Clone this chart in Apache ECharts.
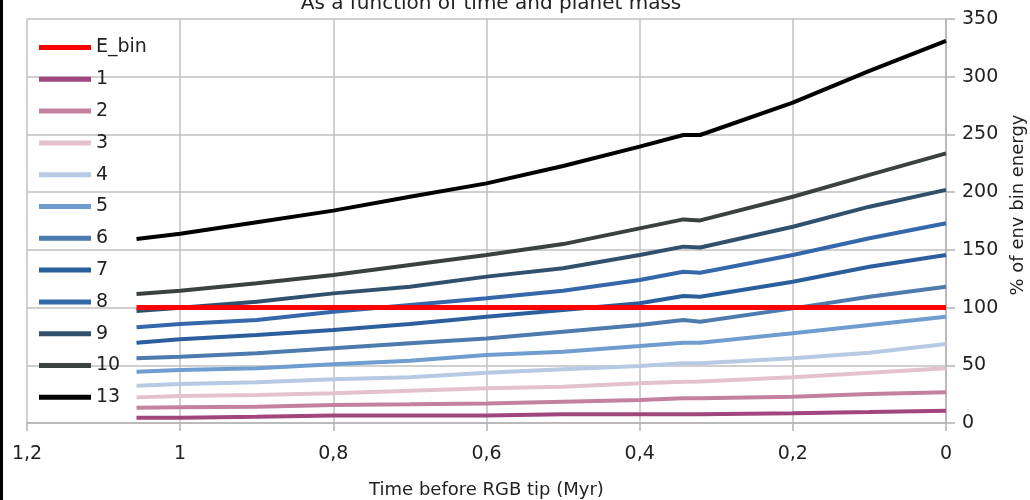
<!DOCTYPE html>
<html>
<head>
<meta charset="utf-8">
<title>As a function of time and planet mass</title>
<script src="https://cdn.jsdelivr.net/npm/echarts@6/dist/echarts.min.js"></script>
<style>
  html, body { margin: 0; padding: 0; background: #fff; }
  #chart { width: 1030px; height: 500px; }
</style>
</head>
<body>
<div id="chart"></div>
<script>
// time before RGB tip (Myr), shared by every curve
var timeMyr = [1.057, 1.0, 0.9, 0.8, 0.7, 0.6, 0.5, 0.4, 0.343, 0.321, 0.2, 0.1, 0];

// % of envelope binding energy, one list per planet mass
var eBin = [100, 100, 100, 100, 100, 100, 100, 100, 100, 100, 100, 100, 100];
var m1  = [4.6, 4.6, 5.5, 6.6, 6.6, 6.6, 7.5, 7.5, 7.5, 7.5, 8.4, 9.5, 10.7];
var m2  = [13.3, 13.6, 14.1, 15.6, 16.2, 17, 18.5, 19.9, 21.4, 21.4, 22.8, 25.1, 26.6];
var m3  = [22.2, 23.4, 24.3, 25.7, 28, 30, 31.5, 34.4, 35.8, 36, 39.6, 43.6, 47.4];
var m4  = [32.3, 33.8, 35.2, 37.8, 39.6, 43.6, 46.5, 49.4, 51.7, 51.7, 56, 60.9, 68.4];
var m5  = [44.5, 45.9, 47.4, 50.8, 54, 58.9, 61.8, 66.7, 69.6, 69.6, 77.7, 84.9, 92.1];
var m6  = [56, 57.5, 60.4, 64.7, 69, 73.3, 79.1, 84.9, 89.2, 87.8, 99.3, 109.4, 118];
var m7  = [69.6, 72.5, 76.2, 80.6, 85.8, 92.1, 97.9, 103.7, 110, 109.4, 122.4, 135.4, 145.5];
var m8  = [82.9, 85.8, 89.2, 96.4, 102.2, 108, 114.6, 123.9, 131, 130.2, 145.5, 160, 173];
var m9  = [97, 99.9, 105, 112.3, 118, 126.8, 134, 145.5, 152.8, 152, 170, 187.4, 202];
var m10 = [111.8, 114.6, 121, 128.2, 136.9, 145.5, 155, 168.6, 176.4, 175.5, 196, 215, 233.6];
var m13 = [159.4, 164, 174, 184, 196, 207.6, 222.6, 239.4, 249.5, 249.5, 277.5, 305, 331];

var seriesNames = ['E_bin', '1', '2', '3', '4', '5', '6', '7', '8', '9', '10', '13'];
var seriesValues = [eBin, m1, m2, m3, m4, m5, m6, m7, m8, m9, m10, m13];
var seriesColors = ['#ff0000', '#a0457d', '#c3819f', '#e3c2ce', '#b6cbe3', '#6f9dd0', '#4e7bad',
                    '#2b5e9c', '#3567ab', '#31506c', '#3b4040', '#000000'];

var xTickLabels = {'1.2': '1,2', '1': '1', '0.8': '0,8', '0.6': '0,6', '0.4': '0,4', '0.2': '0,2', '0': '0'};

var font = 'DejaVu Sans';

var chart = echarts.init(document.getElementById('chart'));

var series = [];
for (var i = 0; i < seriesNames.length; i++) {
  var pts = [];
  for (var j = 0; j < timeMyr.length; j++) {
    pts.push([timeMyr[j], seriesValues[i][j]]);
  }
  series.push({
    name: seriesNames[i],
    type: 'line',
    data: pts,
    showSymbol: false,
    symbol: 'none',
    z: i === 0 ? 4 : 2,
    lineStyle: { color: seriesColors[i], width: i === 0 ? 5 : 4 },
    itemStyle: { color: seriesColors[i] },
    emphasis: { disabled: true },
    animation: false
  });
}

var option = {
  backgroundColor: '#ffffff',
  animation: false,
  title: {
    text: 'As a function of time and planet mass',
    left: 486,
    textAlign: 'center',
    top: -11,
    textStyle: { fontFamily: font, fontSize: 20, fontWeight: 'normal', color: '#222' }
  },
  legend: {
    orient: 'vertical',
    left: 34,
    top: 33,
    icon: 'rect',
    itemWidth: 52,
    itemHeight: 5,
    itemGap: 12.8,
    data: seriesNames,
    textStyle: { fontFamily: font, fontSize: 19, color: '#222' }
  },
  grid: { left: 27, right: 84, top: 19, bottom: 77, outerBoundsMode: 'none' },
  xAxis: {
    type: 'value',
    min: 0,
    max: 1.2,
    interval: 0.2,
    inverse: true,
    name: 'Time before RGB tip (Myr)',
    nameLocation: 'middle',
    nameGap: 58,
    nameTextStyle: { fontFamily: font, fontSize: 18, color: '#222' },
    axisLine: { show: true, lineStyle: { color: '#b3b3b3', width: 1.5 } },
    axisTick: { show: true, length: 8, lineStyle: { color: '#b3b3b3', width: 1.5 } },
    axisLabel: {
      margin: 22,
      fontFamily: font,
      fontSize: 19,
      color: '#222',
      formatter: function (v) {
        var k = String(Math.round(v * 10) / 10);
        return xTickLabels[k] !== undefined ? xTickLabels[k] : k;
      }
    },
    splitLine: { show: true, lineStyle: { color: '#c0c0c0', width: 1.5 } }
  },
  yAxis: {
    type: 'value',
    position: 'right',
    min: 0,
    max: 350,
    interval: 50,
    name: '% of env bin energy',
    nameLocation: 'middle',
    nameRotate: 90,
    nameGap: 61,
    nameTextStyle: { fontFamily: font, fontSize: 18, color: '#222', padding: [0, 0, 0, 32] },
    axisLine: { show: true, lineStyle: { color: '#b3b3b3', width: 1.5 } },
    axisTick: { show: true, length: 9, lineStyle: { color: '#b3b3b3', width: 1.5 } },
    axisLabel: { margin: 16, fontFamily: font, fontSize: 19, color: '#222' },
    splitLine: { show: true, lineStyle: { color: '#c0c0c0', width: 1.5 } }
  },
  graphic: [
    { type: 'rect', left: 0, top: 0, shape: { width: 3, height: 500 }, style: { fill: '#000' }, z: 10 }
  ],
  series: series
};

chart.setOption(option);
</script>
</body>
</html>
